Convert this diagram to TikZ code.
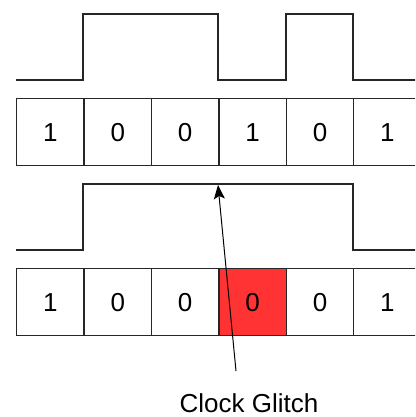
\documentclass[tikz,border=0pt]{standalone}
\usepackage{fontspec}
\setmainfont{Liberation Sans}
\usetikzlibrary{arrows.meta}
\begin{document}
\begin{tikzpicture}[x=1pt,y=-1pt,
  wave/.style={draw=black!85,line width=1.4pt,line join=miter},
  cell/.style={draw=black!85,line width=1.4pt,minimum width=67.4pt,minimum height=67pt,inner sep=0pt,font=\fontsize{26}{30}\selectfont,anchor=north west},
  glitch/.style={cell,fill=red!80!white},
  lbl/.style={font=\fontsize{26}{30}\selectfont,inner sep=0pt}]
\useasboundingbox (0,0) rectangle (415,417);
\clip (0,0) rectangle (415,417);
% top clock
\draw[wave] (16,80) -- (83,80) -- (83,14) -- (218,14) -- (218,80) -- (286,80) -- (286,14) -- (353,14) -- (353,80) -- (420,80);
% top register
\node[cell] (a1) at (16,98) {1};
\node[cell] (a2) at (83.4,98) {0};
\node[cell] (a3) at (150.8,98) {0};
\node[cell] (a4) at (218.2,98) {1};
\node[cell] (a5) at (285.6,98) {0};
\node[cell] (a6) at (353,98) {1};
% bottom clock
\draw[wave] (16,250) -- (83,250) -- (83,184) -- (353,184) -- (353,250) -- (420,250);
% bottom register
\node[cell] (b1) at (16,268) {1};
\node[cell] (b2) at (83.4,268) {0};
\node[cell] (b3) at (150.8,268) {0};
\node[glitch] (b4) at (218.2,268) {0};
\node[cell] (b5) at (285.6,268) {0};
\node[cell] (b6) at (353,268) {1};
% label and arrow
\node[lbl] (g) at (249,403) {Clock Glitch};
\coordinate (s) at (236,371);
\coordinate (t) at (218,185);
\draw[line width=1pt,-{Stealth[length=14pt,width=11pt,inset=3pt]}] (s) -- (t);
\end{tikzpicture}
\end{document}
